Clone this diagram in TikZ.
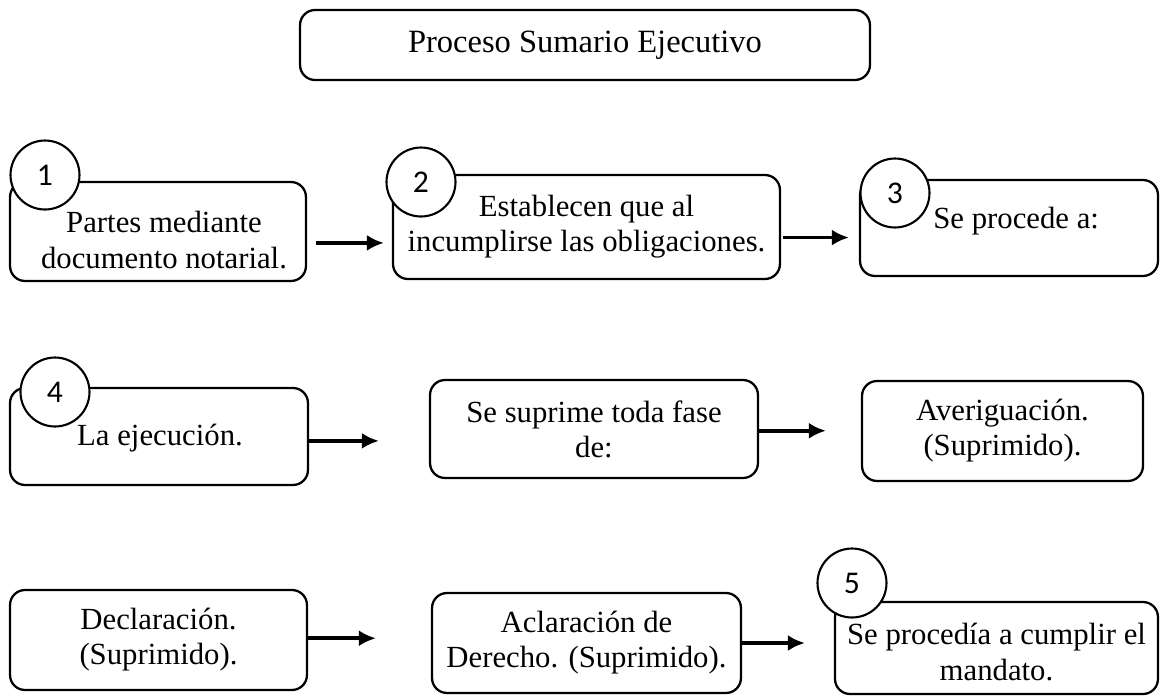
\documentclass[tikz,border=0pt]{standalone}
\usepackage{fontspec}
\setmainfont{Liberation Serif}
\newfontfamily\numfont{Carlito}
\usepackage{tikz}
\usetikzlibrary{arrows.meta}

\begin{document}
\begin{tikzpicture}[x=0.02cm, y=-0.02cm,
        box/.style={draw, line width=1.3pt, rounded corners=0.3cm, align=center, inner sep=0pt,
                    font=\fontsize{17.5}{20}\selectfont},
        txt/.style={align=center, inner sep=0pt, font=\fontsize{17.5}{20}\selectfont},
        num/.style={draw, circle, fill=white, line width=1.2pt, minimum size=1.38cm, inner sep=0pt,
                    font=\numfont\fontsize{18}{18}\selectfont},
        arr/.style={-{Latex[length=0.34cm, width=0.32cm]}, line width=2pt}]

        \useasboundingbox (0,0) rectangle (1161,697);

        \node[box, minimum width=11.4cm, minimum height=1.4cm, font=\fontsize{18.5}{20}\selectfont] (title) at (585,45) {Proceso Sumario Ejecutivo};

        \node[box, minimum width=5.92cm, minimum height=1.98cm] (b1) at (158,231.5) {};
        \node[txt] (t1) at (164,240) {Partes mediante\\documento notarial.};
        \node[box, minimum width=7.74cm, minimum height=2.08cm] (b2) at (586.5,227) {Establecen que al\\incumplirse las obligaciones.};
        \node[box, minimum width=5.96cm, minimum height=1.92cm] (b3) at (1009,228) {};
        \node[txt, anchor=west] (t3) at (933,221) {Se procede a:};

        \node[box, minimum width=5.96cm, minimum height=1.94cm] (b4) at (159,436.5) {};
        \node[txt] (t4) at (160,438) {La ejecución.};
        \node[box, minimum width=6.56cm, minimum height=1.96cm] (b5) at (594,429) {Se suprime toda fase\\de:};
        \node[box, minimum width=5.62cm, minimum height=2.0cm] (b6) at (1002.5,431) {Averiguación.\\(Suprimido).};

        \node[box, minimum width=5.94cm, minimum height=2.0cm] (b7) at (158.5,640) {Declaración.\\(Suprimido).};
        \node[box, minimum width=6.18cm, minimum height=2.0cm] (b8) at (586.5,643) {Aclaración de\\Derecho. (Suprimido).};
        \node[box, minimum width=6.46cm, minimum height=1.84cm] (b9) at (996.5,648) {};
        \node[txt] (t9) at (996.5,652) {Se procedía a cumplir el\\mandato.};

        \node[num] (c1) at (45,175) {1};
        \node[num] (c2) at (421,182) {2};
        \node[num] (c3) at (895,193) {3};
        \node[num] (c4) at (55,392) {4};
        \node[num] (c5) at (852,583) {5};

        \draw[arr, shorten <=0.18cm, shorten >=0.16cm] ([yshift=-6.5]b1.east) -- ([yshift=-6.5]b1.east -| b2.west);
        \draw[arr, shorten <=0.04cm, shorten >=0.2cm] ([yshift=-6]b2.east) -- ([yshift=-6]b2.east -| b3.west);

        \draw[arr, shorten >=1cm] ([yshift=-2.5]b4.east) -- ([yshift=-2.5]b4.east -| b5.west);
        \draw[arr, shorten >=0.7cm] ([yshift=-1]b5.east) -- ([yshift=-1]b5.east -| b6.west);

        \draw[arr, shorten >=1.1cm] ([yshift=1]b7.east) -- ([yshift=1]b7.east -| b8.west);
        \draw[arr, shorten >=0.58cm] (b8.east) -- (b8.east -| b9.west);

\end{tikzpicture}
\end{document}
